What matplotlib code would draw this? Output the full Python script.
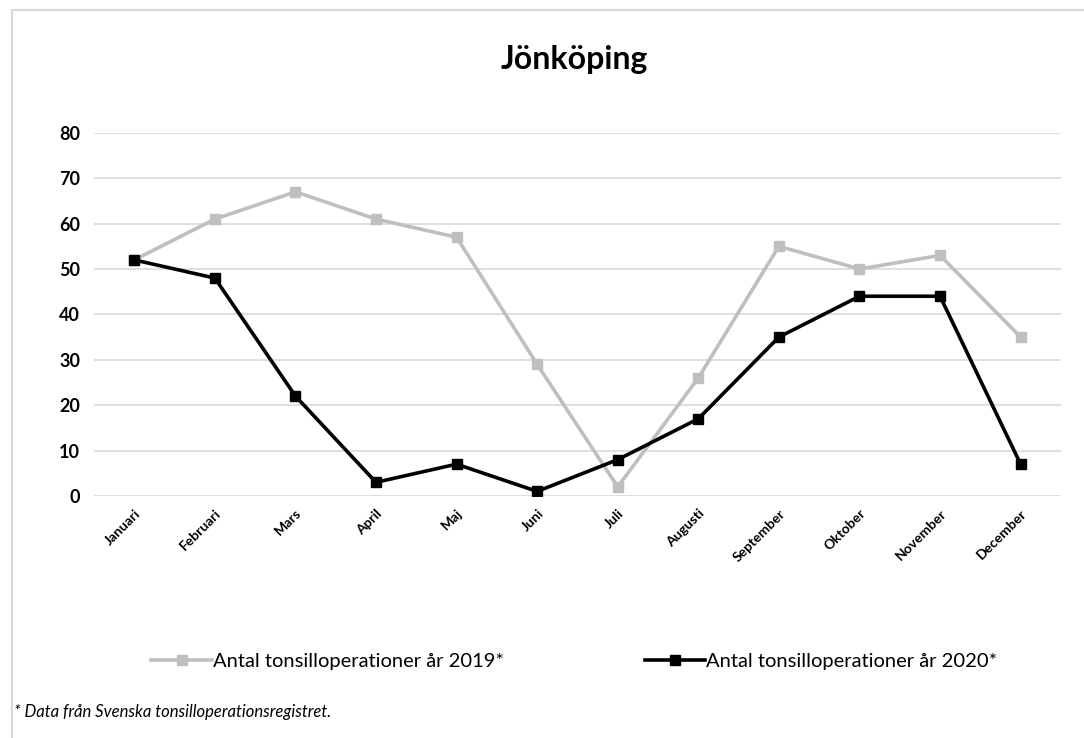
import matplotlib
matplotlib.use("Agg")
import matplotlib.pyplot as plt
from matplotlib.patches import Rectangle

plt.rcParams['font.family'] = ['Lato', 'DejaVu Sans']

months = ['Januari', 'Februari', 'Mars', 'April', 'Maj', 'Juni', 'Juli',
          'Augusti', 'September', 'Oktober', 'November', 'December']
ops_2019 = [52, 61, 67, 61, 57, 29, 2, 26, 55, 50, 53, 35]
ops_2020 = [52, 48, 22, 3, 7, 1, 8, 17, 35, 44, 44, 7]
label_2019 = 'Antal tonsilloperationer år 2019*'
label_2020 = 'Antal tonsilloperationer år 2020*'
title = 'Jönköping'
note = '* Data från Svenska tonsilloperationsregistret.'

fig = plt.figure(figsize=(10.84, 7.38), dpi=100)

# light frame round the chart (cut on right and bottom like the reference)
fig.patches.append(Rectangle((12 / 1084, -0.01), 1.2, 1 - 10 / 738 + 0.01,
                             transform=fig.transFigure, fill=False,
                             edgecolor='#D9D9D9', linewidth=1.5))

ax = fig.add_axes([0.0867, 0.328, 0.892, 0.492])
x = range(len(months))
ax.plot(x, ops_2019, color='#BFBFBF', lw=2.6, marker='s', ms=6.5,
        label=label_2019, zorder=3)
ax.plot(x, ops_2020, color='black', lw=2.6, marker='s', ms=6.5,
        label=label_2020, zorder=4)

ax.set_xlim(-0.5, len(months) - 0.5)
ax.set_ylim(0, 80)
ax.set_yticks(range(0, 81, 10))
ax.set_yticklabels([str(v) for v in range(0, 81, 10)], fontsize=13,
                   fontweight='bold')
ax.set_xticks(list(x))
ax.set_xticklabels(months, rotation=45, ha='right', rotation_mode='anchor',
                   fontsize=10, fontweight='bold')
ax.tick_params(length=0, pad=10)
ax.tick_params(axis='x', pad=8)
ax.grid(axis='y', color='#D9D9D9', lw=1.2)
ax.set_axisbelow(True)
for s in ax.spines.values():
    s.set_visible(False)

fig.text(0.53, 0.92, title, ha='center', va='center', fontsize=23,
         fontweight='bold')

fig.legend(loc='center', bbox_to_anchor=(0.53, 0.104), ncol=2, frameon=False,
           fontsize=14.5, handlelength=3.0, handletextpad=0.05,
           columnspacing=7.0)

fig.text(12 / 1084 + 0.002, 0.035, note, ha='left', va='center',
         fontsize=12, style='italic')

fig.savefig('out.png', dpi=100)
